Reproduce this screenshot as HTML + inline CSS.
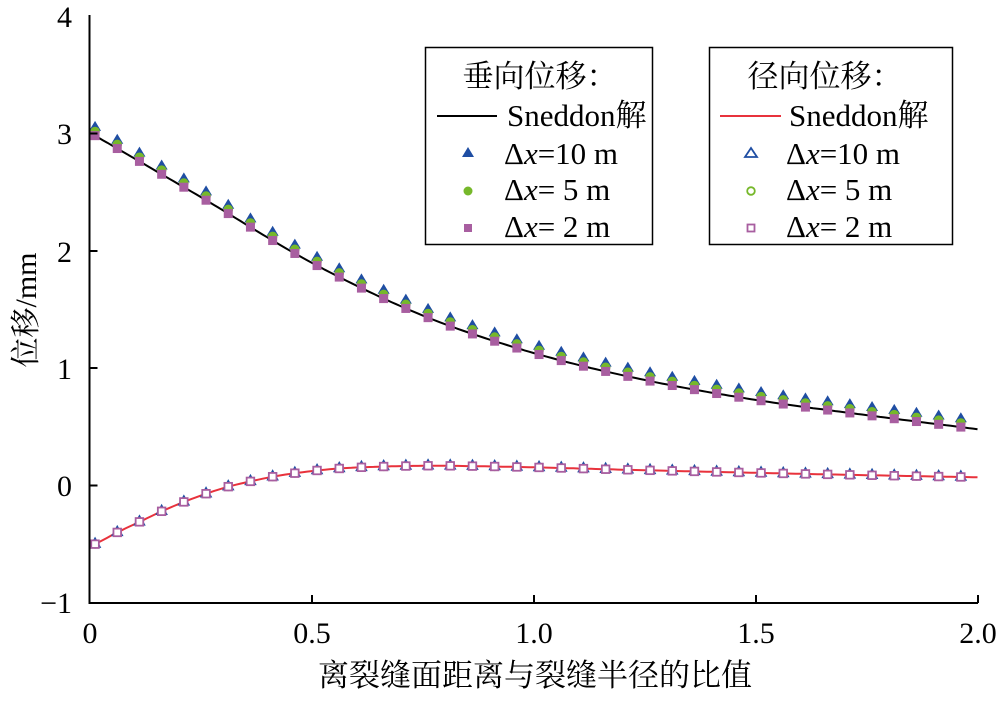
<!DOCTYPE html>
<html><head><meta charset="utf-8"><style>
body{margin:0;background:#fff;}
svg text, svg tspan{font-family:"Liberation Serif","Times New Roman",Times,"DejaVu Serif","Noto Serif CJK SC",serif;}
svg .cjk{font-family:"Noto Serif CJK SC","Noto Sans CJK SC",serif;}
</style></head><body>
<svg id="s" width="1000" height="697" xmlns="http://www.w3.org/2000/svg">
<g font-size="30">
<text x="72" y="27" text-anchor="end">4</text>
<text x="72" y="144" text-anchor="end">3</text>
<text x="72" y="262" text-anchor="end">2</text>
<text x="72" y="379" text-anchor="end">1</text>
<text x="72" y="496" text-anchor="end">0</text>
<text x="72" y="613" text-anchor="end">−1</text>
<text x="90" y="643" text-anchor="middle">0</text>
<text x="312" y="643" text-anchor="middle">0.5</text>
<text x="534" y="643" text-anchor="middle">1.0</text>
<text x="756" y="643" text-anchor="middle">1.5</text>
<text x="978" y="643" text-anchor="middle">2.0</text>
</g>
<text class="cjk" x="535" y="686" text-anchor="middle" font-size="31">离裂缝面距离与裂缝半径的比值</text>
<text transform="translate(36,310) rotate(-90)" text-anchor="middle" font-size="30"><tspan class="cjk">位移</tspan>/mm</text>
<g id="plot"></g>
<g stroke="#000" stroke-width="2" fill="none">
<path d="M89.5,15 V603 H978"/>
<path d="M89.5,133.5h8M89.5,251h8M89.5,368h8M89.5,485.5h8M312,603v-8M534,603v-8M756,603v-8M978,603v-8"/>
</g>
<g>
<rect x="425.5" y="47.5" width="227" height="197" fill="#fff" stroke="#000" stroke-width="1.5"/>
<rect x="709.5" y="47.5" width="243" height="197" fill="#fff" stroke="#000" stroke-width="1.5"/>
<g font-size="31">
<text class="cjk" x="540" y="87" text-anchor="middle">垂向位移：</text>
<text x="507" y="126">Sneddon<tspan class="cjk">解</tspan></text>
<text x="504" y="164">Δ<tspan font-style="italic">x</tspan>=10 m</text>
<text x="504" y="200">Δ<tspan font-style="italic">x</tspan>= 5 m</text>
<text x="504" y="237">Δ<tspan font-style="italic">x</tspan>= 2 m</text>
<text class="cjk" x="825" y="87" text-anchor="middle">径向位移：</text>
<text x="789" y="126">Sneddon<tspan class="cjk">解</tspan></text>
<text x="786" y="164">Δ<tspan font-style="italic">x</tspan>=10 m</text>
<text x="786" y="200">Δ<tspan font-style="italic">x</tspan>= 5 m</text>
<text x="786" y="237">Δ<tspan font-style="italic">x</tspan>= 2 m</text>
</g>
<line x1="437" y1="116" x2="497" y2="116" stroke="#000" stroke-width="2"/>
<line x1="720" y1="116" x2="781" y2="116" stroke="#e8323c" stroke-width="2"/>
<polygon points="468,147 474,157 462,157" fill="#1f4ea3"/>
<circle cx="468" cy="191" r="4.5" fill="#76b82a"/>
<rect x="464" y="224" width="8" height="8" fill="#a85ea0"/>
<polygon points="751,148 757,157 745,157" fill="none" stroke="#1f4ea3" stroke-width="1.8"/>
<circle cx="751" cy="191" r="3.8" fill="none" stroke="#76b82a" stroke-width="1.8"/>
<rect x="747.5" y="224.5" width="7" height="7" fill="none" stroke="#a85ea0" stroke-width="1.8"/>
</g>
</svg>
<script>
const X=v=>89.5+v*444, Y=v=>485.5-v*117.3;
function interp(pts,x){for(let i=0;i<pts.length-1;i++){if(x<=pts[i+1][0]){
 const p0=pts[Math.max(i-1,0)],p1=pts[i],p2=pts[i+1],p3=pts[Math.min(i+2,pts.length-1)];
 const t=(x-p1[0])/(p2[0]-p1[0]);const h=p2[0]-p1[0];
 const m1=(p2[1]-p0[1])/(p2[0]-p0[0]||1)*h, m2=(p3[1]-p1[1])/(p3[0]-p1[0]||1)*h;
 const t2=t*t,t3=t2*t;return (2*t3-3*t2+1)*p1[1]+(t3-2*t2+t)*m1+(-2*t3+3*t2)*p2[1]+(t3-t2)*m2;}}return pts[pts.length-1][1];}
const V=[[0,3.01],[0.25,2.46],[0.5,1.9],[0.75,1.45],[1.0,1.13],[1.25,0.9],[1.5,0.73],[1.75,0.6],[2.0,0.48]];
const R=[[0,-0.52],[0.0125,-0.5],[0.0625,-0.4],[0.1125,-0.31],[0.1625,-0.22],[0.2125,-0.14],[0.2625,-0.07],[0.3125,-0.01],[0.3625,0.035],[0.4125,0.075],[0.4625,0.105],[0.5125,0.128],[0.5625,0.145],[0.6125,0.155],[0.7,0.165],[0.8,0.168],[1.0,0.155],[1.2,0.135],[1.5,0.108],[1.75,0.088],[2.0,0.07]];
let g='';
function path(pts,c){let d='';for(let x=0;x<=2.0001;x+=0.01)d+=(d?'L':'M')+X(x).toFixed(1)+','+Y(interp(pts,x)).toFixed(1);
 g+=`<path d="${d}" fill="none" stroke="${c}" stroke-width="2"/>`;}
path(V,'#000');path(R,'#e8323c');
for(let k=0;k<40;k++){const x=0.0125+0.05*k,px=X(x);
 let y=Y(interp(V,x)+0.075);g+=`<polygon points="${px},${y-6} ${px+6},${y+4} ${px-6},${y+4}" fill="#1f4ea3"/>`;
 y=Y(interp(V,x)+0.035);g+=`<circle cx="${px}" cy="${y}" r="4.8" fill="#76b82a"/>`;
 y=Y(interp(V,x));g+=`<rect x="${px-4.5}" y="${y-4.5}" width="9" height="9" fill="#a85ea0"/>`;
 y=Y(interp(R,x));
 g+=`<polygon points="${px},${y-6} ${px+5},${y+3} ${px-5},${y+3}" fill="none" stroke="#1f4ea3" stroke-width="1.5"/>`;
 g+=`<circle cx="${px}" cy="${y}" r="3.8" fill="none" stroke="#76b82a" stroke-width="1.5"/>`;
 g+=`<rect x="${px-3.8}" y="${y-3.8}" width="7.6" height="7.6" fill="#fff" stroke="#a85ea0" stroke-width="1.8"/>`;}
document.getElementById('plot').innerHTML=g;
</script>
</body></html>
